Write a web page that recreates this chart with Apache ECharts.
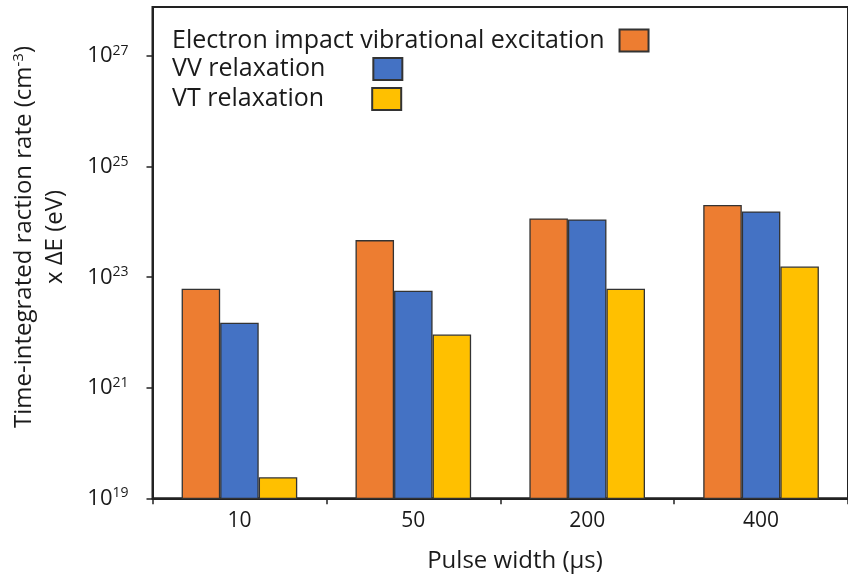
<!DOCTYPE html>
<html><head><meta charset="utf-8">
<script src="https://cdn.jsdelivr.net/npm/echarts@6/dist/echarts.min.js"></script>
<style>html,body{margin:0;padding:0;background:#fff}#c{width:848px;height:580px}</style>
</head><body><div id="c"></div>
<script>
// ---- data ----
const categories = ['10', '50', '200', '400'];
const seriesNames = ['Electron impact vibrational excitation', 'VV relaxation', 'VT relaxation'];
const electronImpact = [6.2e22, 4.7e23, 1.16e24, 2.03e24];
const vvRelaxation = [1.5e22, 5.7e22, 1.11e24, 1.55e24];
const vtRelaxation = [2.4e19, 9.2e21, 6.2e22, 1.56e23];
const yTickValues = [1e19, 1e21, 1e23, 1e25, 1e27];
const yTitleLine1 = 'Time-integrated raction rate (cm';
const yTitleSup = '-3';
const yTitleLine2 = 'x ΔE (eV)';
const xTitle = 'Pulse width (μs)';

// ---- style ----
const FONT = '"Open Sans", "Liberation Sans", Arial, sans-serif';
const TXT = '#1a1a1a';
const colors = ['#ED7D31', '#4472C4', '#FFC000'];
const seriesData = [electronImpact, vvRelaxation, vtRelaxation];
const legendTop = [28, 56.5, 86.5];
const legendTextPadRight = [10, 43, 43];

const chart = echarts.init(document.getElementById('c'), null, {renderer: 'canvas'});
chart.setOption({
  animation: false,
  backgroundColor: '#fff',
  grid: {left: 152.5, top: 7, right: -8.5, bottom: 81.7, show: true, borderColor: '#222', borderWidth: 2, containLabel: false},
  xAxis: {
    type: 'category', data: categories,
    axisLine: {lineStyle: {color: '#222', width: 2}},
    axisTick: {show: true, length: 6, inside: false, alignWithLabel: false, lineStyle: {color: '#222', width: 1.5}},
    axisLabel: {fontSize: 21, color: TXT, fontFamily: FONT, margin: 12}
  },
  yAxis: {
    type: 'log', logBase: 10, min: 1e19, max: Math.pow(10, 27.89), interval: 2,
    splitLine: {show: false},
    axisLine: {show: true, lineStyle: {color: '#222', width: 2}},
    axisTick: {show: true, length: 6, lineStyle: {color: '#222', width: 1.5}, customValues: yTickValues},
    axisLabel: {
      customValues: yTickValues, margin: 24, fontFamily: FONT,
      formatter: function (v) {
        const e = Math.round(Math.log10(v));
        return '{b|10}{s|' + e + '}';
      },
      rich: {
        b: {fontSize: 22, color: TXT, fontFamily: FONT},
        s: {fontSize: 14, color: TXT, fontFamily: FONT, padding: [0, 0, 10, 0]}
      }
    }
  },
  legend: seriesNames.map((n, i) => ({
    data: [n], left: 172, top: legendTop[i], orient: 'horizontal', align: 'right',
    padding: 0, itemWidth: 29, itemHeight: 22, icon: 'rect', selectedMode: false,
    textStyle: {fontSize: 25, color: TXT, fontFamily: FONT, lineHeight: 24, padding: [0, legendTextPadRight[i], 0, 0]}
  })),
  series: seriesNames.map((n, i) => ({
    name: n, type: 'bar', data: seriesData[i],
    barGap: '0%', barCategoryGap: '33.5%',
    itemStyle: {color: colors[i], borderColor: '#333', borderWidth: 1.3}
  })),
  graphic: [
    {type: 'text', x: 24, y: 237, rotation: Math.PI / 2,
     style: {text: '{a|' + yTitleLine1 + '}{s|' + yTitleSup + '}{a|)}', align: 'center', verticalAlign: 'middle',
       rich: {a: {fontSize: 24, fill: TXT, fontFamily: FONT}, s: {fontSize: 15, fill: TXT, fontFamily: FONT, padding: [0, 0, 11, 0]}}}},
    {type: 'text', x: 55, y: 237, rotation: Math.PI / 2,
     style: {text: yTitleLine2, align: 'center', verticalAlign: 'middle', fontSize: 24, fill: TXT, fontFamily: FONT}},
    {type: 'text', x: 515, y: 561,
     style: {text: xTitle, align: 'center', verticalAlign: 'middle', fontSize: 24, fill: TXT, fontFamily: FONT}}
  ]
});
</script></body></html>
